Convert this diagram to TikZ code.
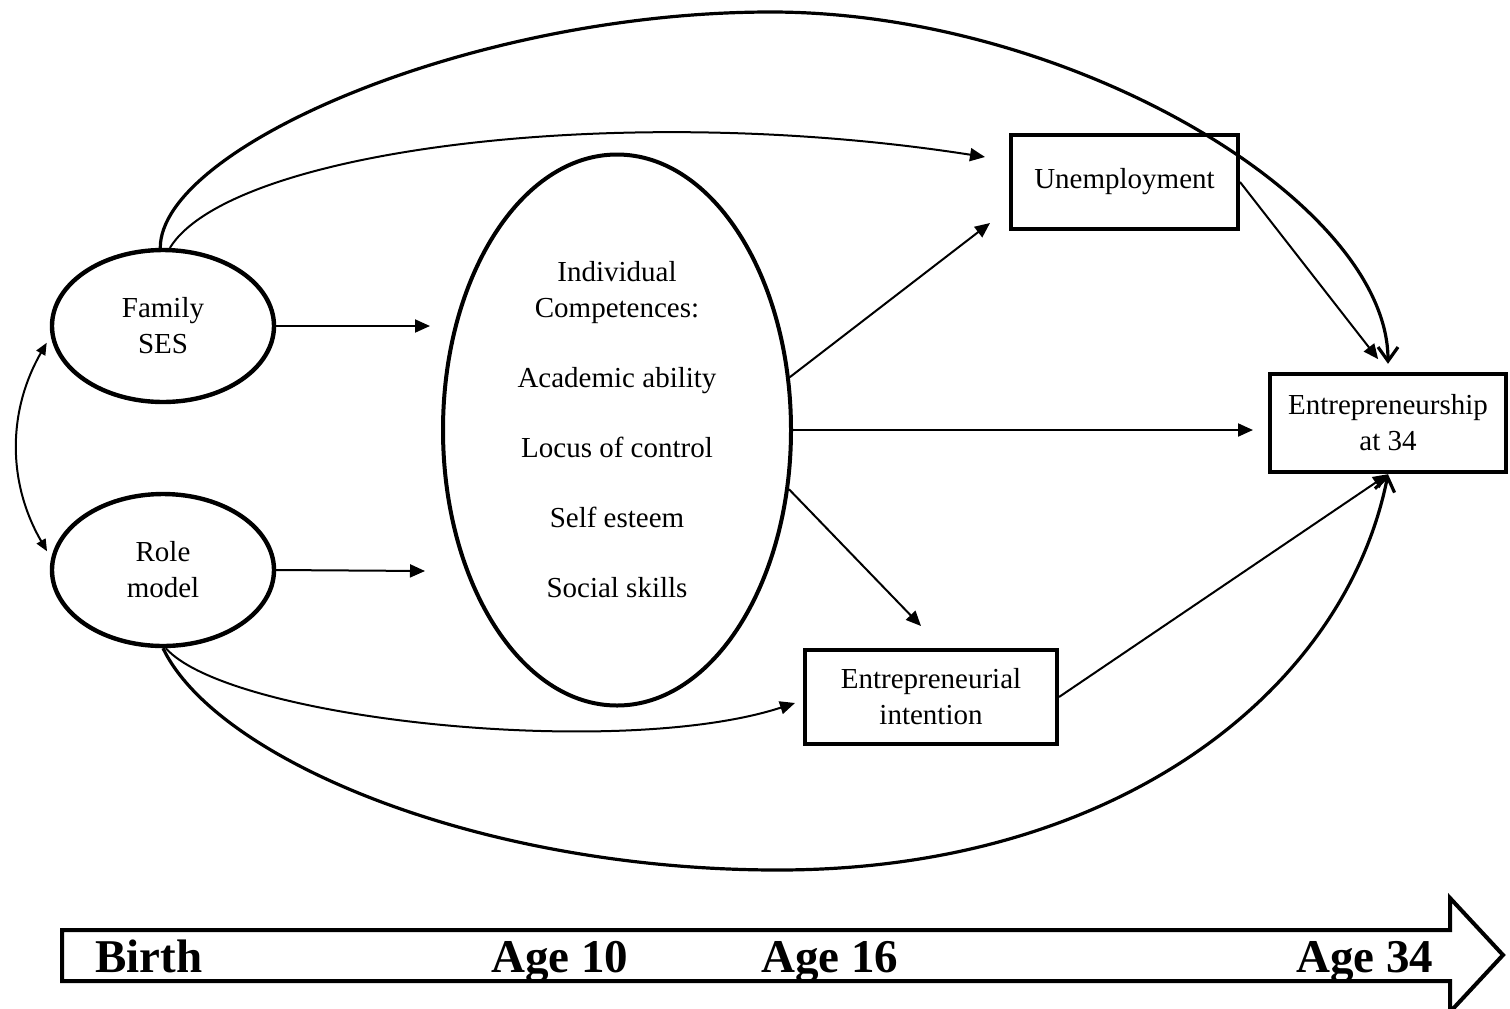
\documentclass[tikz,border=0pt]{standalone}
\usepackage{fontspec}
\setmainfont{Liberation Serif}
\usetikzlibrary{
    arrows.meta,
    shapes.geometric
}

\begin{document}
\begin{tikzpicture}[x=0.5pt, y=-0.5pt,
    font=\fontsize{14.5}{18}\selectfont,
    oval/.style={draw, ellipse, line width=2.2pt, align=center, inner sep=0pt},
    box/.style={draw, rectangle, line width=2.2pt, align=center, inner sep=0pt},
    link/.style={line width=1pt, -{Triangle[length=7.5pt,width=6.5pt]}},
    bigloop/.style={line width=1.6pt, -{Straight Barb[length=7pt,width=10pt]}},
    stage/.style={anchor=base west, inner sep=0pt, font=\fontsize{23.5}{28}\selectfont\bfseries}]

\useasboundingbox (0,0) rectangle (1510,1008);

% Family background
\node[oval, minimum width=111pt, minimum height=76pt] (fam) at (163,326) {Family\\SES};
\node[oval, minimum width=111pt, minimum height=76pt] (role) at (163,570) {Role\\model};

% Competences
\node[oval, line width=2pt, minimum width=174pt, minimum height=275.5pt] (comp) at (617,430)
  {Individual\\Competences:\\[17pt]Academic ability\\[17pt]Locus of control\\[17pt]Self esteem\\[17pt]Social skills};

% Outcomes
\node[box, minimum width=113.3pt, minimum height=46.8pt] (unem) at (1124.5,182) {Unemployment};
\node[box, minimum width=117.8pt, minimum height=49pt] (ent) at (1388,423) {Entrepreneurship\\at 34};
\node[box, minimum width=125.8pt, minimum height=46.8pt] (intent) at (931,697) {Entrepreneurial\\intention};

% Free arrow ends
\coordinate (famtip) at (430,326);
\coordinate (roletip) at (425,571);
\coordinate (unemtop) at (985,157);
\coordinate (unemlow) at (990,223);
\coordinate (enttip) at (1253,430);
\coordinate (intenttop) at (921,626);
\coordinate (intentleft) at (795,703);

% Into competences
\draw[link] (fam.east) -- (famtip);
\draw[link] (role.east) -- (roletip);
\draw[line width=1pt, {Triangle[length=6pt,width=5pt]}-{Triangle[length=6pt,width=5pt]},
  shorten <=4pt, shorten >=4pt] (fam.185) to[bend right=30] (role.174);

% Direct paths
\draw[bigloop, shorten >=4pt] (fam.92) .. controls +(0,-100) and (471,12) .. (771,12)
  .. controls (1071,12) and +(0,-170) .. (ent.north);
\draw[link] (fam.85) .. controls (230,150) and (620,100) .. (unemtop);
\draw[link] (role.-88) .. controls (230,720) and (620,760) .. (intentleft);
\draw[bigloop] (role.-90) .. controls (216,759) and (478,870) .. (778,870)
  .. controls (1118,870) and +(-43,216) .. (ent.south);

% From competences
\draw[link] (comp.17) -- (unemlow);
\draw[link] (comp.east) -- (enttip);
\draw[link] (comp.-19) -- (intenttop);
\draw[link, shorten >=8pt] (unem.east) -- (ent.north);
\draw[link] (intent.east) -- (ent.south);

% Time line
\draw[line width=2pt] (62,930) -- (1450,930) -- (1450,898) -- (1503,955)
  -- (1450,1012) -- (1450,981) -- (62,981) -- cycle;
\node[stage] (birth) at (95,972) {Birth};
\node[stage] (age10) at (491,972) {Age 10};
\node[stage] (age16) at (761,972) {Age 16};
\node[stage] (age34) at (1296,972) {Age 34};

\end{tikzpicture}
\end{document}
